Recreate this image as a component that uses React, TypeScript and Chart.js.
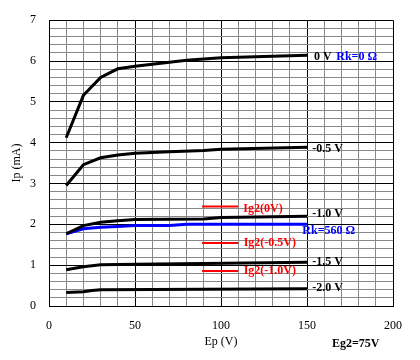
import React, { useEffect, useRef } from "react";
import { Chart, registerables } from "chart.js";

Chart.register(...registerables);

// Data
const ep0 = [10, 20, 30, 40, 50, 60, 80, 90, 100, 150];
const ip0 = [4.12, 5.16, 5.6, 5.81, 5.87, 5.92, 6.02, 6.05, 6.08, 6.14];

const epM05 = [10, 20, 30, 40, 50, 70, 90, 100, 150];
const ipM05 = [2.95, 3.46, 3.63, 3.7, 3.74, 3.78, 3.81, 3.84, 3.89];

const epM10 = [10, 20, 30, 40, 50, 90, 100, 150];
const ipM10 = [1.77, 1.97, 2.05, 2.09, 2.12, 2.13, 2.17, 2.2];

const epRk560 = [10, 20, 30, 40, 50, 70, 80, 150];
const ipRk560 = [1.77, 1.89, 1.93, 1.95, 1.97, 1.97, 2.0, 2.0];

const epM15 = [10, 20, 30, 50, 90, 150];
const ipM15 = [0.89, 0.96, 1.01, 1.02, 1.04, 1.07];

const epM20 = [10, 20, 25, 30, 150];
const ipM20 = [0.33, 0.35, 0.38, 0.4, 0.42];

const ig2X = [89, 110];
const ig2_0 = [2.44, 2.44];
const ig2_M05 = [1.54, 1.54];
const ig2_M10 = [0.86, 0.86];

const xTicks = [0, 50, 100, 150, 200];
const yTicks = [0, 1, 2, 3, 4, 5, 6, 7];

const labelTexts = ["0 V", "Rk=0 Ω", "-0.5 V", "-1.0 V", "Rk=560 Ω", "-1.5 V", "-2.0 V", "Ig2(0V)", "Ig2(-0.5V)", "Ig2(-1.0V)"];
const labelX = [154, 167, 153, 153, 147.3, 153, 153, 113, 113.2, 113.2];
const labelY = [6.11, 6.11, 3.84, 2.26, 1.85, 1.09, 0.445, 2.38, 1.55, 0.86];
const labelColors = ["#000", "#0000ff", "#000", "#000", "#0000ff", "#000", "#000", "#ff0000", "#ff0000", "#ff0000"];

const pts = (xs: number[], ys: number[]) => xs.map((x, i) => ({ x, y: ys[i] }));

export default function App() {
  const ref = useRef<HTMLCanvasElement | null>(null);
  useEffect(() => {
    if (!ref.current) return;
    const serif = "'Liberation Serif', 'Times New Roman', serif";
    const labelPlugin = {
      id: "labels",
      afterDatasetsDraw(chart: any) {
        const { ctx, scales } = chart;
        ctx.save();
        ctx.font = `bold 12px ${serif}`;
        ctx.textBaseline = "middle";
        ctx.textAlign = "left";
        labelTexts.forEach((t, i) => {
          ctx.fillStyle = labelColors[i];
          ctx.fillText(t, scales.x.getPixelForValue(labelX[i]), scales.y.getPixelForValue(labelY[i]));
        });
        ctx.font = `bold 12px ${serif}`;
        ctx.fillStyle = "#000";
        ctx.fillText("Eg2=75V", 332, 344);
        ctx.restore();
      },
    };
    const line = (data: any, color: string, width: number) => ({
      data,
      borderColor: color,
      backgroundColor: color,
      borderWidth: width,
      pointRadius: 0,
      tension: 0,
      fill: false,
    });
    const chart = new Chart(ref.current, {
      type: "line",
      data: {
        datasets: [
          line(pts(ep0, ip0), "#000", 3),
          line(pts(epM05, ipM05), "#000", 3),
          line(pts(epM10, ipM10), "#000", 3),
          line(pts(epRk560, ipRk560), "#0000ff", 3),
          line(pts(epM15, ipM15), "#000", 3),
          line(pts(epM20, ipM20), "#000", 3),
          line(pts(ig2X, ig2_0), "#ff0000", 2),
          line(pts(ig2X, ig2_M05), "#ff0000", 2),
          line(pts(ig2X, ig2_M10), "#ff0000", 2),
        ],
      },
      options: {
        animation: false,
        responsive: false,
        layout: { padding: { left: 0, right: 27, top: 18, bottom: 0 } },
        plugins: { legend: { display: false }, tooltip: { enabled: false } },
        scales: {
          x: {
            type: "linear",
            min: 0,
            max: 200,
            afterFit: (s: any) => { s.height = 54; },
            afterBuildTicks: (s: any) => {
              const t = [];
              for (let v = 0; v <= 200; v += 10) t.push({ value: v });
              s.ticks = t;
            },
            ticks: {
              autoSkip: false,
              maxRotation: 0,
              padding: 13,
              color: "#000",
              font: { family: serif, size: 12 },
              callback: (v: any) => (xTicks.includes(Number(v)) ? String(v) : ""),
            },
            grid: {
              drawTicks: false,
              color: (c: any) => (c.tick && c.tick.value % 50 === 0 ? "#000" : "#888"),
              lineWidth: 1,
            },
            border: { color: "#000", width: 1 },
            title: {
              display: true,
              text: "Ep (V)",
              color: "#000",
              font: { family: serif, size: 12 },
              padding: { top: 0, bottom: 11 },
            },
          },
          y: {
            type: "linear",
            min: 0,
            max: 7,
            afterFit: (s: any) => { s.width = 49; },
            afterBuildTicks: (s: any) => {
              const t = [];
              for (let i = 0; i <= 35; i++) t.push({ value: i / 5 });
              s.ticks = t;
            },
            ticks: {
              autoSkip: false,
              padding: 13,
              color: "#000",
              font: { family: serif, size: 12 },
              callback: (v: any) => {
                const n = Number(v);
                return yTicks.some((k) => Math.abs(k - n) < 1e-6) ? String(Math.round(n)) : "";
              },
            },
            grid: {
              drawTicks: false,
              color: (c: any) => (c.tick && Math.abs(c.tick.value - Math.round(c.tick.value)) < 1e-6 ? "#000" : "#888"),
              lineWidth: 1,
            },
            border: { color: "#000", width: 1 },
            title: {
              display: true,
              text: "Ip (mA)",
              color: "#000",
              font: { family: serif, size: 12 },
              padding: { top: 10, bottom: 0 },
            },
          },
        },
      },
      plugins: [labelPlugin],
    });
    return () => chart.destroy();
  }, []);
  return (
    <div style={{ position: "fixed", left: 0, top: 0, width: 420, height: 360, background: "#fff" }}>
      <canvas ref={ref} width={420} height={360} style={{ width: 420, height: 360 }} />
    </div>
  );
}
